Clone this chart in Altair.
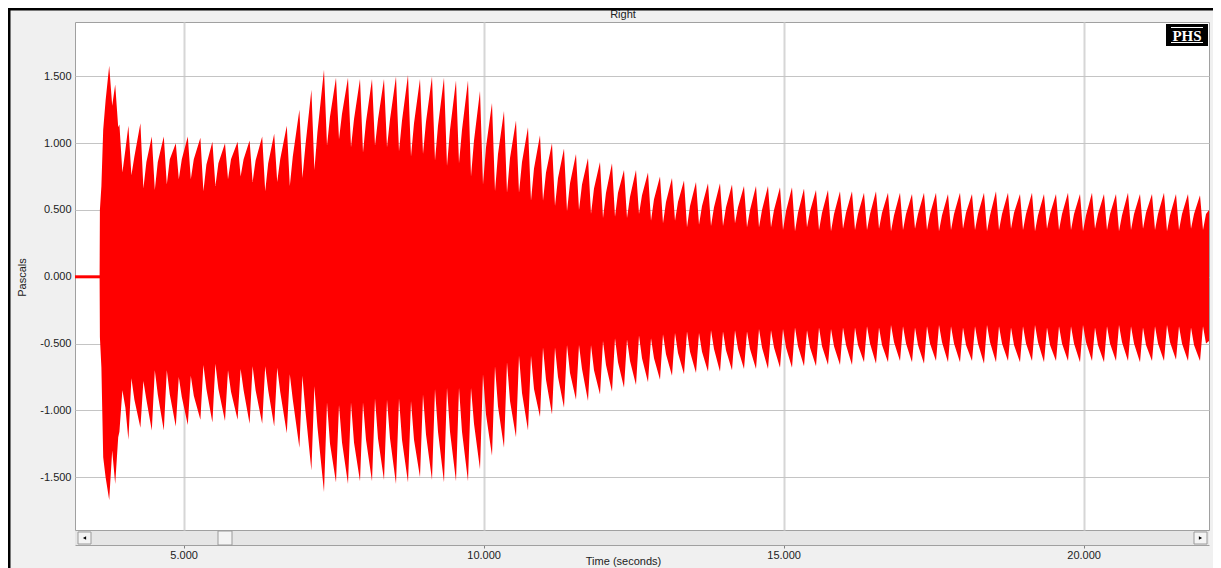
import altair as alt
import pandas as pd

# ---------------- data ----------------
# flat (silent) part before the onset
pre_t = [3.19, 3.61]
pre_v = [0.0, 0.0]

# onset of the signal
onset_t = [3.60, 3.605, 3.63, 3.66, 3.70]
onset_hi = [0.0, 0.50, 0.68, 1.10, 1.32]
onset_lo = [0.0, -0.45, -0.68, -1.35, -1.50]

# pulse peak times (s)
pulse_t = [3.76, 3.86, 3.93, 4.08, 4.28, 4.47, 4.67, 4.87, 5.07, 5.28, 5.48, 5.69, 5.90,
           6.10, 6.31, 6.51, 6.72, 6.93, 7.13, 7.34, 7.54, 7.74, 7.94, 8.14, 8.34, 8.54,
           8.74, 8.94, 9.14, 9.34, 9.54, 9.74,
           9.94, 10.14, 10.34, 10.54, 10.74, 10.94, 11.14, 11.34, 11.54, 11.74, 11.94,
           12.14, 12.34, 12.54, 12.74, 12.94,
           13.14, 13.34, 13.54, 13.74, 13.94, 14.14, 14.34, 14.54, 14.74, 14.94, 15.14,
           15.34, 15.54, 15.74, 15.94, 16.14,
           16.34, 16.54, 16.74, 16.94, 17.14, 17.34, 17.54, 17.74, 17.94, 18.14, 18.34,
           18.54, 18.74, 18.94, 19.14, 19.34, 19.54, 19.74, 19.94, 20.14, 20.34, 20.54,
           20.74, 20.94, 21.14, 21.34, 21.54, 21.74, 21.94]

# upper envelope: pulse peak, notch right after it, body level of the next tooth (Pa)
up_peak = [1.58, 1.44, 1.14, 1.13, 1.15, 1.05, 1.05, 1.00, 1.05, 1.04, 1.01, 1.00, 1.01,
           1.02, 1.05, 1.07, 1.13, 1.25, 1.40, 1.55, 1.49, 1.49, 1.48, 1.48, 1.48, 1.50,
           1.51, 1.48, 1.50, 1.49, 1.47, 1.47,
           1.39, 1.30, 1.24, 1.17, 1.12, 1.06, 1.00, 0.96, 0.92, 0.89, 0.86, 0.85, 0.80,
           0.80, 0.78, 0.75,
           0.74, 0.72, 0.71, 0.70, 0.70, 0.69, 0.68, 0.68, 0.68, 0.67, 0.67, 0.66, 0.65,
           0.65, 0.64, 0.64,
           0.63, 0.64, 0.63, 0.63, 0.62, 0.63, 0.63, 0.62, 0.63, 0.62, 0.63, 0.64, 0.63,
           0.62, 0.63, 0.62, 0.62, 0.63, 0.62, 0.63, 0.62, 0.62, 0.63, 0.62, 0.62, 0.63,
           0.62, 0.62, 0.61]
up_valley = [1.28, 1.12, 0.78, 0.76, 0.66, 0.65, 0.69, 0.73, 0.73, 0.64, 0.68, 0.73, 0.75,
             0.71, 0.64, 0.71, 0.68, 0.74, 0.80, 0.98, 1.03, 0.97, 0.93, 0.98, 0.97, 0.94,
             0.90, 0.92, 0.87, 0.83, 0.85, 0.75,
             0.69, 0.64, 0.63, 0.63, 0.57, 0.57, 0.53, 0.49, 0.50, 0.47, 0.44, 0.45, 0.44,
             0.47, 0.42, 0.40,
             0.42, 0.37, 0.39, 0.38, 0.38, 0.40, 0.37, 0.37, 0.37, 0.35, 0.34, 0.37, 0.35,
             0.34, 0.36, 0.35,
             0.35, 0.36, 0.34, 0.35, 0.36, 0.35, 0.34, 0.35, 0.36, 0.35, 0.34, 0.35, 0.36,
             0.35, 0.34, 0.36, 0.35, 0.35, 0.34, 0.36, 0.35, 0.34, 0.35, 0.36, 0.35, 0.34,
             0.35, 0.36, 0.35]
up_body = [1.35, 1.20, 0.95, 0.90, 0.86, 0.86, 0.88, 0.88, 0.88, 0.84, 0.85, 0.88, 0.88,
           0.87, 0.85, 0.88, 0.90, 0.98, 1.08, 1.20, 1.22, 1.18, 1.16, 1.18, 1.18, 1.17,
           1.15, 1.16, 1.13, 1.10, 1.10, 1.02,
           0.97, 0.92, 0.89, 0.86, 0.81, 0.78, 0.74, 0.70, 0.69, 0.66, 0.63, 0.63, 0.60,
           0.61, 0.58, 0.56,
           0.56, 0.53, 0.53, 0.52, 0.52, 0.52, 0.50, 0.50, 0.50, 0.49, 0.48, 0.49, 0.48,
           0.47, 0.48, 0.47,
           0.47, 0.48, 0.46, 0.47, 0.47, 0.47, 0.46, 0.47, 0.48, 0.47, 0.46, 0.47, 0.48,
           0.47, 0.46, 0.47, 0.47, 0.47, 0.46, 0.47, 0.47, 0.46, 0.47, 0.48, 0.47, 0.46,
           0.47, 0.47, 0.47]

# lower envelope: pulse trough, notch right after it, body level of the next tooth (Pa)
lo_peak = [-1.67, -1.55, -1.16, -1.22, -1.13, -1.15, -1.15, -1.12, -1.11, -1.07, -1.09, -1.08, -1.07,
           -1.10, -1.10, -1.12, -1.17, -1.28, -1.45, -1.61, -1.54, -1.55, -1.53, -1.53, -1.52, -1.55,
           -1.54, -1.50, -1.52, -1.54, -1.53, -1.53,
           -1.44, -1.34, -1.28, -1.20, -1.15, -1.05, -1.03, -0.98, -0.92, -0.93, -0.88, -0.86, -0.83,
           -0.81, -0.79, -0.77,
           -0.74, -0.73, -0.72, -0.71, -0.71, -0.70, -0.69, -0.69, -0.69, -0.68, -0.68, -0.67, -0.67,
           -0.66, -0.66, -0.66,
           -0.64, -0.65, -0.64, -0.63, -0.64, -0.65, -0.63, -0.64, -0.64, -0.63, -0.65, -0.64, -0.63,
           -0.64, -0.63, -0.64, -0.63, -0.63, -0.64, -0.63, -0.64, -0.63, -0.63, -0.64, -0.63, -0.63,
           -0.62, -0.63, -0.63]
lo_valley = [-1.30, -1.20, -0.85, -0.76, -0.78, -0.70, -0.70, -0.75, -0.74, -0.66, -0.65, -0.70, -0.69,
             -0.67, -0.67, -0.68, -0.73, -0.74, -0.82, -0.94, -0.96, -0.94, -0.94, -0.91, -0.92, -0.91,
             -0.93, -0.88, -0.84, -0.83, -0.83, -0.83,
             -0.73, -0.67, -0.64, -0.59, -0.59, -0.53, -0.53, -0.51, -0.51, -0.51, -0.48, -0.46, -0.47,
             -0.44, -0.46, -0.43,
             -0.42, -0.41, -0.42, -0.40, -0.41, -0.40, -0.41, -0.39, -0.40, -0.39, -0.38, -0.40, -0.38,
             -0.39, -0.38, -0.38,
             -0.37, -0.38, -0.36, -0.37, -0.38, -0.37, -0.36, -0.37, -0.38, -0.37, -0.36, -0.37, -0.38,
             -0.37, -0.36, -0.38, -0.37, -0.37, -0.36, -0.38, -0.37, -0.36, -0.37, -0.38, -0.37, -0.36,
             -0.37, -0.38, -0.37]
lo_body = [-1.42, -1.30, -0.98, -0.92, -0.92, -0.88, -0.88, -0.90, -0.89, -0.84, -0.84, -0.86, -0.85,
           -0.85, -0.85, -0.86, -0.92, -1.00, -1.12, -1.25, -1.24, -1.24, -1.22, -1.21, -1.21, -1.22,
           -1.22, -1.18, -1.16, -1.16, -1.16, -1.10,
           -1.03, -0.97, -0.93, -0.87, -0.84, -0.77, -0.75, -0.72, -0.69, -0.70, -0.66, -0.64, -0.63,
           -0.61, -0.61, -0.58,
           -0.57, -0.56, -0.56, -0.54, -0.55, -0.54, -0.54, -0.53, -0.53, -0.53, -0.52, -0.53, -0.52,
           -0.52, -0.51, -0.51,
           -0.50, -0.51, -0.49, -0.50, -0.51, -0.50, -0.49, -0.50, -0.51, -0.50, -0.49, -0.50, -0.51,
           -0.50, -0.49, -0.51, -0.50, -0.50, -0.49, -0.51, -0.50, -0.49, -0.50, -0.51, -0.50, -0.49,
           -0.50, -0.51, -0.50]

# end of the visible window
tail_t = [22.09]
tail_hi = [0.50]
tail_lo = [-0.48]

x_ticks = [5, 10, 15, 20]
y_ticks = [-1.5, -1.0, -0.5, 0.0, 0.5, 1.0, 1.5]
X_DOMAIN = [3.19, 22.09]
Y_DOMAIN = [-1.895, 1.907]
VALLEY_LAG = 0.05   # notch sits just after each pulse peak
BODY_LAG = 0.10     # tooth body reached shortly after the notch

# ---------------- build tables ----------------
rows = [{"t": t, "hi": h, "lo": l} for t, h, l in zip(onset_t, onset_hi, onset_lo)]
n = len(pulse_t)
for i in range(n):
    t = pulse_t[i]
    nxt = pulse_t[i + 1] if i + 1 < n else tail_t[0]
    rows.append({"t": t, "hi": up_peak[i], "lo": lo_peak[i]})
    rows.append({"t": round(t + VALLEY_LAG, 3), "hi": up_valley[i], "lo": lo_valley[i]})
    if t + BODY_LAG < nxt - 0.03:
        rows.append({"t": round(t + BODY_LAG, 3), "hi": up_body[i], "lo": lo_body[i]})
rows += [{"t": t, "hi": h, "lo": l} for t, h, l in zip(tail_t, tail_hi, tail_lo)]
env = pd.DataFrame(rows)
pre = pd.DataFrame({"t": pre_t, "v": pre_v})
one = pd.DataFrame({"a": [0]})

W, H = 1134, 508
FONT = "Liberation Sans"
RED = "#ff0000"

xscale = alt.Scale(domain=X_DOMAIN, nice=False, zero=False)
yscale = alt.Scale(domain=Y_DOMAIN, nice=False, zero=False)

xaxis = alt.Axis(values=x_ticks, format=".3f", grid=True, gridColor="#d6d6d6", gridWidth=2,
                 offset=15, domainColor="#a0a0a0", tickColor="#808080", tickSize=3,
                 labelPadding=1, labelFont=FONT, labelFontSize=11, labelColor="#222222",
                 title="Time (seconds)", titleFont=FONT, titleFontSize=11,
                 titleFontWeight="normal", titleColor="#222222", titleX=548, titleY=10,
                 titleAlign="center", titleBaseline="top")
yaxis = alt.Axis(values=y_ticks, labelExpr="(datum.value < 0 ? '-' : '') + format(abs(datum.value), '.3f')",
                 grid=True, gridColor="#c4c4c4", gridWidth=1, domain=False, ticks=False,
                 labelPadding=4, labelFont=FONT, labelFontSize=11, labelColor="#222222",
                 title="Pascals", titleFont=FONT, titleFontSize=11, titleFontWeight="normal",
                 titleColor="#222222", titleX=-53, titleY=255, titleAngle=-90,
                 titleAlign="center", titleBaseline="middle")

wave = alt.Chart(env).mark_area(color=RED, interpolate="linear", clip=True, opacity=1).encode(
    x=alt.X("t:Q", scale=xscale, axis=xaxis),
    y=alt.Y("hi:Q", scale=yscale, axis=yaxis),
    y2="lo:Q",
)
flat = alt.Chart(pre).mark_line(color=RED, strokeWidth=3, clip=True).encode(
    x=alt.X("t:Q", scale=xscale), y=alt.Y("v:Q", scale=yscale)
)

# window chrome: scrollbar, title strip text, logo, frame
scroll_bg = alt.Chart(one).mark_rect(color="#e6e6e6").encode(
    x=alt.value(0), x2=alt.value(W), y=alt.value(H + 1), y2=alt.value(H + 15))
btn_l = alt.Chart(one).mark_rect(color="#f4f4f4", stroke="#9a9a9a", strokeWidth=1).encode(
    x=alt.value(3), x2=alt.value(16), y=alt.value(H + 2), y2=alt.value(H + 14))
btn_r = alt.Chart(one).mark_rect(color="#f4f4f4", stroke="#9a9a9a", strokeWidth=1).encode(
    x=alt.value(W - 15), x2=alt.value(W - 2), y=alt.value(H + 2), y2=alt.value(H + 14))
thumb = alt.Chart(one).mark_rect(color="#f4f4f4", stroke="#9a9a9a", strokeWidth=1).encode(
    x=alt.value(143), x2=alt.value(157), y=alt.value(H + 1), y2=alt.value(H + 15))
arr_l = alt.Chart(one).mark_point(shape="triangle-left", filled=True, color="black", size=14, opacity=1).encode(
    x=alt.value(9.5), y=alt.value(H + 8))
arr_r = alt.Chart(one).mark_point(shape="triangle-right", filled=True, color="black", size=14, opacity=1).encode(
    x=alt.value(W - 8.5), y=alt.value(H + 8))

title_txt = alt.Chart(one).mark_text(text="Right", font=FONT, fontSize=11, color="#222222",
                                     align="center", baseline="middle").encode(
    x=alt.value(548), y=alt.value(-7))

logo_box = alt.Chart(one).mark_rect(color="black").encode(
    x=alt.value(1091), x2=alt.value(1133), y=alt.value(2), y2=alt.value(24))
logo_txt = alt.Chart(one).mark_text(text="PHS", font="Liberation Serif", fontSize=15, fontWeight="bold",
                                    color="white", align="center", baseline="middle").encode(
    x=alt.value(1112), y=alt.value(13.5))
logo_top = alt.Chart(one).mark_rule(color="white", strokeWidth=1).encode(
    x=alt.value(1096), x2=alt.value(1128), y=alt.value(5.5))
logo_bot = alt.Chart(one).mark_rule(color="white", strokeWidth=1).encode(
    x=alt.value(1096), x2=alt.value(1128), y=alt.value(20.5))

frame_top = alt.Chart(one).mark_rule(color="black", strokeWidth=3).encode(
    x=alt.value(-67), x2=alt.value(W + 4), y=alt.value(-13))
frame_left = alt.Chart(one).mark_rule(color="black", strokeWidth=3).encode(
    x=alt.value(-66), y=alt.value(-14), y2=alt.value(H + 38))

chart = alt.layer(
    wave, flat, scroll_bg, btn_l, btn_r, thumb, arr_l, arr_r, title_txt,
    logo_box, logo_top, logo_bot, logo_txt, frame_top, frame_left
).properties(
    width=W, height=H,
    padding={"left": 67, "top": 14, "right": 4, "bottom": 38},
    autosize=alt.AutoSizeParams(type="none"),
    background="#f0f0f0",
).configure_view(
    stroke="#a0a0a0", strokeWidth=1, fill="white"
)

chart.save("out.html", embed_options={"renderer": "svg", "actions": False})
